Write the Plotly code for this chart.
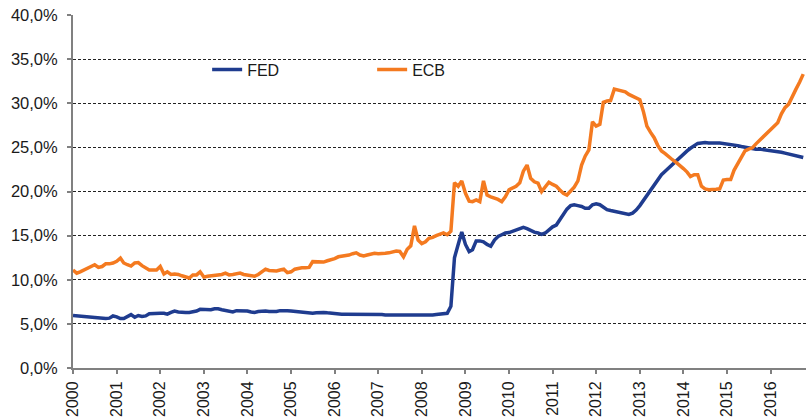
import pandas as pd
import plotly.graph_objects as go

# Monthly data, Jan 2000 .. Oct 2016 (percent)
fed = [
    # 2000
    5.95, 5.9, 5.9, 5.85, 5.8, 5.8, 5.7, 5.65, 5.6, 5.6, 5.65, 5.9,
    # 2001
    5.8, 5.6, 5.6, 5.85, 6.05, 5.75, 5.95, 5.85, 5.9, 6.15, 6.2, 6.2,
    # 2002
    6.2, 6.2, 6.1, 6.3, 6.45, 6.35, 6.3, 6.3, 6.3, 6.35, 6.45, 6.65,
    # 2003
    6.6, 6.55, 6.6, 6.7, 6.7, 6.6, 6.5, 6.4, 6.35, 6.5, 6.5, 6.45,
    # 2004
    6.45, 6.35, 6.3, 6.4, 6.45, 6.45, 6.4, 6.35, 6.4, 6.5, 6.55, 6.5,
    # 2005
    6.45, 6.4, 6.35, 6.3, 6.3, 6.25, 6.2, 6.25, 6.3, 6.3, 6.25, 6.2,
    # 2006
    6.2, 6.15, 6.1, 6.1, 6.1, 6.1, 6.1, 6.1, 6.1, 6.1, 6.1, 6.1,
    # 2007
    6.1, 6.05, 6.0, 6.0, 5.95, 5.95, 5.95, 6.0, 6.0, 6.0, 6.0, 6.0,
    # 2008
    6.0, 6.0, 6.0, 6.0, 6.05, 6.1, 6.2, 6.2, 7.0, 12.5, 14.0, 15.4,
    # 2009
    14.0, 13.2, 13.4, 14.4, 14.4, 14.3, 14.0, 13.8, 14.5, 14.9, 15.1, 15.3,
    # 2010
    15.35, 15.5, 15.7, 15.85, 15.95, 15.8, 15.6, 15.4, 15.3, 15.15, 15.3, 15.7,
    # 2011
    16.0, 16.2, 16.8, 17.4, 18.0, 18.4, 18.5, 18.4, 18.3, 18.1, 18.1, 18.5,
    # 2012
    18.6, 18.5, 18.2, 17.95, 17.85, 17.75, 17.65, 17.5, 17.4, 17.4, 17.55, 17.9,
    # 2013
    18.4, 19.0, 19.6, 20.2, 20.8, 21.3, 21.9, 22.3, 22.7, 23.1, 23.5, 23.9,
    # 2014
    24.2, 24.6, 24.9, 25.2, 25.45, 25.5, 25.55, 25.5, 25.55, 25.5, 25.5, 25.45,
    # 2015
    25.4, 25.35, 25.25, 25.2, 25.1, 25.0, 24.95, 24.9, 24.8, 24.8, 24.75, 24.7,
    # 2016
    24.65, 24.6, 24.6, 24.45, 24.35, 24.25, 24.15, 24.1, 23.95, 23.85,
]

ecb = [
    # 2000
    11.1, 10.75, 10.9, 11.1, 11.35, 11.6, 11.7, 11.4, 11.5, 11.8, 11.8, 11.9,
    # 2001
    12.1, 12.45, 11.9, 11.7, 11.55, 11.9, 11.95, 11.6, 11.3, 11.1, 11.1, 11.1,
    # 2002
    11.5, 10.65, 10.9, 10.6, 10.65, 10.6, 10.45, 10.3, 10.2, 10.55, 10.55, 10.9,
    # 2003
    10.3, 10.4, 10.45, 10.45, 10.5, 10.6, 10.75, 10.55, 10.6, 10.7, 10.75, 10.6,
    # 2004
    10.55, 10.45, 10.4, 10.6, 10.85, 11.2, 11.05, 11.0, 11.0, 11.1, 11.2, 10.8,
    # 2005
    10.9, 11.2, 11.3, 11.35, 11.35, 11.4, 12.05, 12.0, 11.95, 12.0, 12.15, 12.25,
    # 2006
    12.4, 12.6, 12.65, 12.7, 12.8, 12.95, 13.05, 12.8, 12.7, 12.8, 12.95, 13.0,
    # 2007
    12.95, 12.95, 13.0, 13.05, 13.15, 13.25, 13.2, 12.6, 13.45, 13.85, 16.1, 14.5,
    # 2008
    14.1, 14.3, 14.7, 14.8, 15.0, 15.2, 15.3, 15.1, 15.5, 21.0, 20.6, 21.2,
    # 2009
    19.8, 18.9, 18.85, 19.05, 18.85, 21.2, 19.6, 19.4, 19.25, 19.1, 18.85, 19.4,
    # 2010
    20.2, 20.4, 20.6, 21.0, 22.3, 23.0, 21.5, 21.1, 20.95, 20.0, 20.5, 21.05,
    # 2011
    20.8, 20.6, 20.2, 19.8, 19.6, 20.0, 20.5, 21.2, 23.0, 24.0, 24.7, 27.9,
    # 2012
    27.4, 27.6, 30.1, 30.25, 30.3, 31.6, 31.5, 31.4, 31.3, 31.0, 30.8, 30.6,
    # 2013
    30.4, 29.0, 27.4, 26.7, 26.1, 25.2, 24.6, 24.3, 23.9, 23.6, 23.3, 23.0,
    # 2014
    22.6, 22.2, 21.7, 21.9, 21.9, 20.6, 20.3, 20.2, 20.2, 20.25, 20.3, 21.3,
    # 2015
    21.35, 21.35, 22.4, 23.2, 23.9, 24.6, 24.8, 24.95, 25.4, 25.8, 26.3, 26.7,
    # 2016
    27.1, 27.4, 27.8, 28.8, 29.5, 29.9, 30.8, 31.6, 32.4, 33.3,
]

dates = pd.date_range("2000-01-01", periods=len(fed), freq="MS")

year_ticks = [f"{y}-01-01" for y in range(2000, 2017)]
year_labels = [str(y) for y in range(2000, 2017)]
y_ticks = [0, 5, 10, 15, 20, 25, 30, 35, 40]
y_labels = ["0,0%", "5,0%", "10,0%", "15,0%", "20,0%", "25,0%", "30,0%", "35,0%", "40,0%"]

FED_COLOR = "#1f3c8f"
ECB_COLOR = "#f47a20"
FONT = "Liberation Sans, Arial, sans-serif"

fig = go.Figure()
fig.add_trace(go.Scatter(x=dates, y=fed, name="FED", mode="lines",
                         line=dict(color=FED_COLOR, width=3.5)))
fig.add_trace(go.Scatter(x=dates, y=ecb, name="ECB", mode="lines",
                         line=dict(color=ECB_COLOR, width=3.5)))

fig.update_layout(
    width=806, height=418,
    margin=dict(l=73, r=0, t=15, b=50, autoexpand=False),
    paper_bgcolor="white", plot_bgcolor="white",
    font=dict(family=FONT, size=16, color="#1a1a1a"),
    showlegend=True,
    legend=dict(orientation="h", x=0.183, xanchor="left", y=0.845, yanchor="middle",
                bgcolor="rgba(0,0,0,0)", font=dict(size=16, color="#1a1a1a"),
                entrywidth=120, itemwidth=30, tracegroupgap=0),
)
fig.update_xaxes(
    type="date", range=["2000-01-01", "2016-10-24"],
    tickmode="array", tickvals=year_ticks, ticktext=year_labels,
    tickangle=-90, ticks="outside", ticklen=4, tickwidth=1.5, tickcolor="#808080",
    ticklabelstandoff=1,
    showline=True, linecolor="#808080", linewidth=2,
    showgrid=False, zeroline=False, automargin=False,
    tickfont=dict(size=16, family=FONT, color="#1a1a1a"),
)
fig.update_yaxes(
    range=[0, 40], tickmode="array", tickvals=y_ticks, ticktext=y_labels,
    ticks="outside", ticklen=4, tickwidth=1.5, tickcolor="#808080",
    ticklabelstandoff=6,
    showline=True, linecolor="#808080", linewidth=2,
    showgrid=True, gridcolor="#222222", gridwidth=1, griddash="3px,2px",
    zeroline=False, automargin=False,
    tickfont=dict(size=16.5, family=FONT, color="#1a1a1a"),
)

fig.write_html("out.html", config={"displayModeBar": False},
               post_script="document.body.style.margin='0px';")
